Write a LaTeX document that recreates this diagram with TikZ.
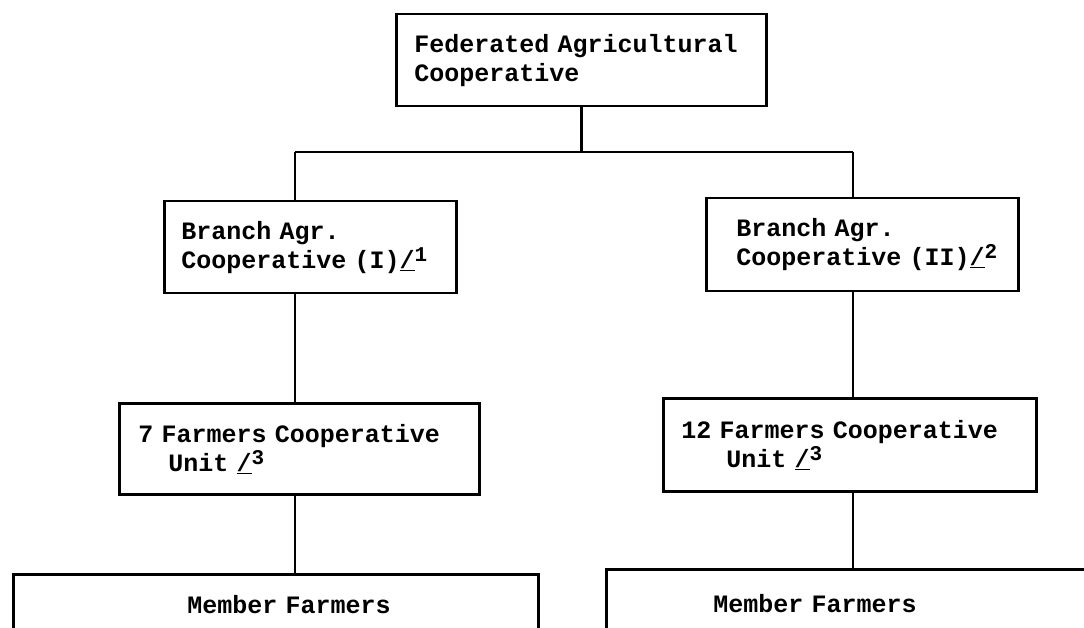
\documentclass[tikz,border=0pt]{standalone}
\usepackage{fontspec}
\setmainfont{Liberation Mono}
\newcommand\fnmark[1]{\underline{/}\raisebox{7pt}{\fontsize{21}{21}\selectfont #1}}

\begin{document}
\begin{tikzpicture}[x=1pt,y=-1pt,
  box/.style={shape=rectangle,draw=black,line width=2.5pt,anchor=north west,align=left,inner ysep=0pt,font=\fontsize{25}{29}\selectfont\bfseries}]
\useasboundingbox (0,0) rectangle (1084,628);
\clip (0,0) rectangle (1084,628);
\node[box,inner xsep=18pt,text width=334pt,minimum height=92pt] (0) at (395,13) {Federated Agricultural\\Cooperative};
\node[box,inner xsep=17pt,text width=258pt,minimum height=92pt] (1) at (163,200) {Branch Agr.\\Cooperative (I)\fnmark{1}};
\node[box,inner xsep=30pt,text width=252pt,minimum height=93pt] (2) at (705,197) {Branch Agr.\\\mbox{Cooperative (II)\fnmark{2}}};
\node[box,inner xsep=19pt,text width=322pt,minimum height=91pt] (3) at (118,402) {7 Farmers Cooperative\\\hspace*{30pt}Unit \fnmark{3}};
\node[box,inner xsep=18pt,text width=337pt,minimum height=93pt] (4) at (662,397) {12 Farmers Cooperative\\\hspace*{45pt}Unit \fnmark{3}};
\node[box,inner xsep=174pt,text width=177pt,minimum height=60pt] (5) at (12,573) {\mbox{Member Farmers}};
\node[box,inner xsep=107pt,text width=291pt,minimum height=68pt] (6) at (605,568) {Member Farmers};

\coordinate (b1) at (295,152);
\coordinate (b2) at (853,152);

\path [draw=black,line width=2.5pt] (0.south) edge (0.south |- b1);
\path [draw=black,line width=2.5pt] (b1) edge (b2);
\path [draw=black,line width=2.5pt] (b1) edge (b1 |- 1.north);
\path [draw=black,line width=2.5pt] (b2) edge (b2 |- 2.north);
\path [draw=black,line width=2.5pt] (b1 |- 1.south) edge (b1 |- 3.north);
\path [draw=black,line width=2.5pt] (b2 |- 2.south) edge (b2 |- 4.north);
\path [draw=black,line width=2.5pt] (b1 |- 3.south) edge (b1 |- 5.north);
\path [draw=black,line width=2.5pt] (b2 |- 4.south) edge (b2 |- 6.north);
\end{tikzpicture}
\end{document}
